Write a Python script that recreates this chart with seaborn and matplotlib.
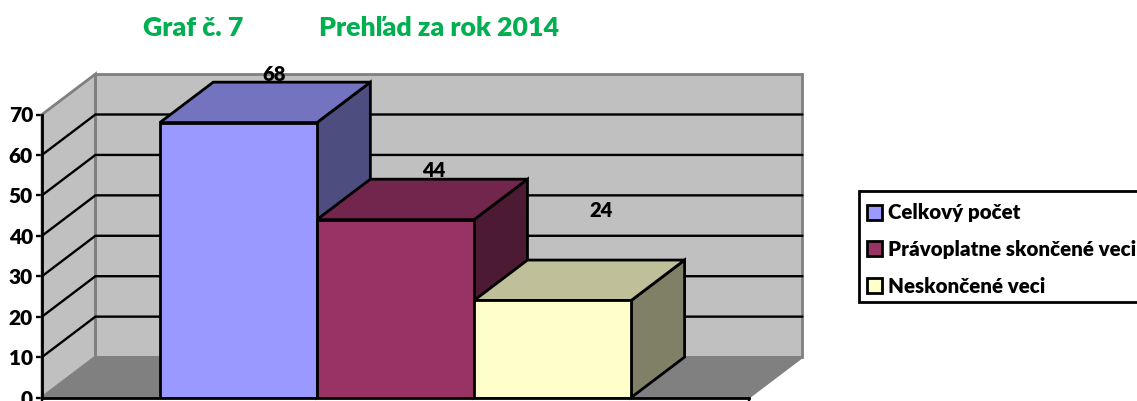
import matplotlib
matplotlib.use("Agg")
import matplotlib.pyplot as plt
from matplotlib.patches import Polygon, Rectangle
from matplotlib.colors import to_rgb
import pandas as pd
import seaborn as sns

# ========= DATA =========
series = ["Celkový počet", "Právoplatne skončené veci", "Neskončené veci"]
values = [68, 44, 24]
y_ticks = [0, 10, 20, 30, 40, 50, 60, 70]

# ========= STYLE =========
colors = ["#9999FF", "#993366", "#FFFFCC"]
label_offsets = [(36, 48), (38, 49), (48, 90)]  # px from front top centre of bar
WALL = "#C0C0C0"
FLOOR = "#808080"
DX, DY = 0.34, 10  # depth of the fake 3D box, in data units
X0, X1 = -1.25, 3.25
Y1 = 70
LW = 2.0
FONT = "Lato"
WEIGHT = 800

sns.set_theme(style="white")
plt.rcParams["font.family"] = [FONT, "DejaVu Sans"]
plt.rcParams["font.weight"] = WEIGHT

df = pd.DataFrame({"series": series, "value": values})

fig = plt.figure(figsize=(11.37, 4.01), dpi=100)
ax = fig.add_axes([42 / 1137, 3.5 / 401, 707 / 1137, 283 / 401])

sns.barplot(
    data=df, x="series", y="value", hue="series", order=series, hue_order=series,
    palette=colors, saturation=1, width=1, gap=0, dodge=False, legend=True,
    edgecolor="black", linewidth=LW, zorder=5, ax=ax,
)
ax.set_xlim(X0, X1)
ax.set_ylim(0, Y1)
ax.set_xlabel("")
ax.set_ylabel("")


def poly(pts, face, edge="black", lw=LW, z=4):
    ax.add_patch(Polygon(pts, closed=True, facecolor=face, edgecolor=edge,
                         linewidth=lw, zorder=z, clip_on=False, joinstyle="miter"))


def shade(c, k):
    return tuple(v * k for v in to_rgb(c))


# ========= WALLS =========
poly([(X0 + DX, DY), (X1 + DX, DY), (X1 + DX, Y1 + DY), (X0 + DX, Y1 + DY)], WALL, FLOOR, 2, 1)
poly([(X0, 0), (X0 + DX, DY), (X0 + DX, Y1 + DY), (X0, Y1)], WALL, FLOOR, 2, 1)
poly([(X0, 0), (X1, 0), (X1 + DX, DY), (X0 + DX, DY)], FLOOR, FLOOR, 1.5, 1.2)

for v in y_ticks[1:-1]:
    ax.plot([X0, X0 + DX, X1 + DX], [v, v + DY, v + DY], color="black", lw=1.7,
            zorder=2, clip_on=False, solid_joinstyle="miter")

# ========= BAR SIDES =========
for i, (v, c) in enumerate(zip(values, colors)):
    left, right = i - 0.5, i + 0.5
    z = 4 + i * 0.1
    poly([(right, 0), (right + DX, DY), (right + DX, v + DY), (right, v)], shade(c, 0.5), z=z)
    poly([(left, v), (right, v), (right + DX, v + DY), (left + DX, v + DY)], shade(c, 0.75), z=z)
    ax.annotate(str(v), (i, v), xytext=(label_offsets[i][0] * 0.72, label_offsets[i][1] * 0.72),
                textcoords="offset points", ha="center", va="center", fontsize=14.5,
                fontweight=WEIGHT, color="black", annotation_clip=False, zorder=8)

# ========= AXES =========
sns.despine(ax=ax, top=True, right=True)
for s in ["left", "bottom"]:
    ax.spines[s].set_color("black")
    ax.spines[s].set_linewidth(LW)
    ax.spines[s].set_zorder(6)
ax.set_yticks(y_ticks)
ax.set_xticks([X0, X1])
ax.set_xticklabels(["", ""])
ax.tick_params(axis="both", length=4, width=1.7, color="black", left=True, bottom=True, pad=2.5,
               labelcolor="black")
ax.tick_params(axis="y", labelsize=15)
for t in ax.get_yticklabels():
    t.set_fontweight(WEIGHT)

# ========= LEGEND =========
# the box runs off the right edge of the picture, so it is drawn apart from the entries
fig.add_artist(Rectangle((859 / 1137, 1 - 302 / 401), 300 / 1137, 111 / 401,
                         transform=fig.transFigure, facecolor="white", edgecolor="black",
                         linewidth=LW, zorder=-1))
sns.move_legend(
    ax, loc="upper left", bbox_to_anchor=(855 / 1137, 1 - 191 / 401),
    bbox_transform=fig.transFigure, borderaxespad=0, title=None, frameon=False,
    fontsize=14.8, handlelength=0.73, handleheight=0.73, handletextpad=0.28,
    labelspacing=0.86, borderpad=0.6,
)
leg = ax.get_legend()
leg.set_zorder(10)
for t in leg.get_texts():
    t.set_fontweight(WEIGHT)
    t.set_color("black")

# ========= TITLE =========
fig.text(143 / 1137, 1 - 27.5 / 401, "Graf č. 7", color="#00B050", fontsize=19.3, fontweight=WEIGHT, va="center")
fig.text(319 / 1137, 1 - 27.5 / 401, "Prehľad za rok 2014", color="#00B050", fontsize=19.3, fontweight=WEIGHT, va="center")

fig.savefig("out.png", dpi=100)
